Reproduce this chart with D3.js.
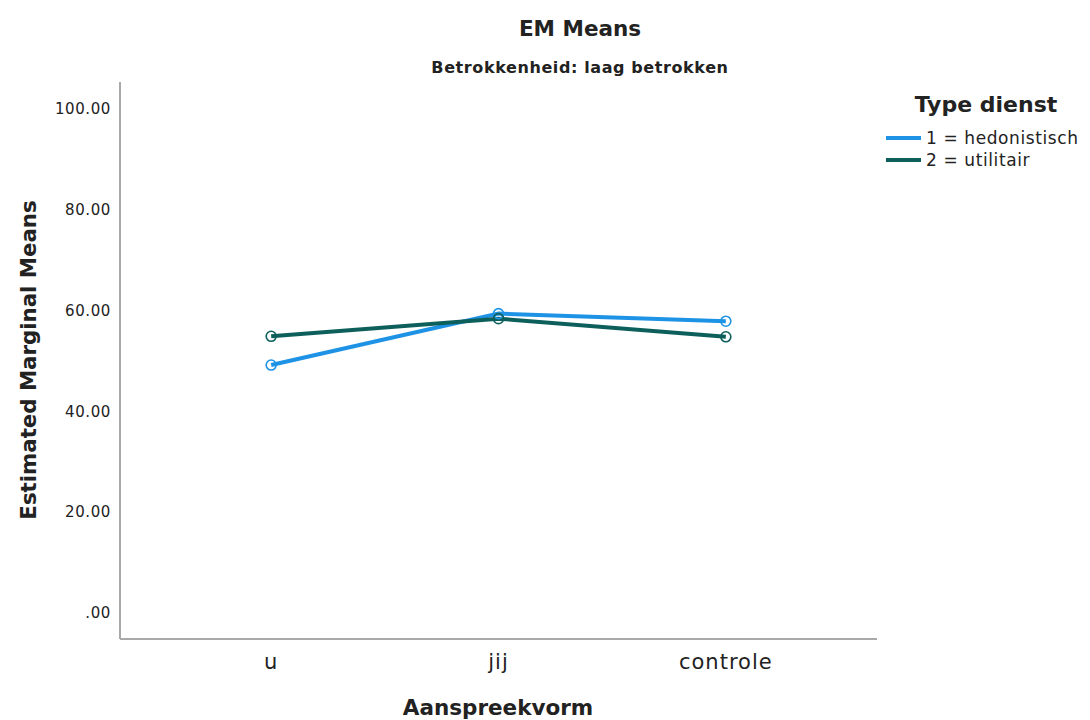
<!DOCTYPE html>
<html><head><meta charset="utf-8">
<script src="https://cdn.jsdelivr.net/npm/d3@7"></script>
<style>body{margin:0;background:#fff;} text{font-family:"DejaVu Sans","Open Sans",sans-serif;}</style>
</head><body>
<svg id="c" width="1090" height="720"></svg>
<script>
const categories = ["u", "jij", "controle"];
const seriesNames = ["1 = hedonistisch", "2 = utilitair"];
const hedonistisch = [49.2, 59.4, 57.9];
const utilitair = [54.9, 58.4, 54.8];
const yTicks = [0, 20, 40, 60, 80, 100];
const colors = ["#1e93e6", "#0d5f5b"];

const svg = d3.select("#c");
const axLeft = 120, axRight = 877, axTop = 82, axBottom = 639;
const x = d3.scalePoint().domain(categories).range([axLeft, axRight]).padding(0.665);
const y = d3.scaleLinear().domain([0, 100]).range([613, 109]);

// axes lines
svg.append("line").attr("x1", axLeft).attr("x2", axLeft).attr("y1", axTop).attr("y2", axBottom)
  .attr("stroke", "#a9a9a9").attr("stroke-width", 2);
svg.append("line").attr("x1", axLeft).attr("x2", axRight).attr("y1", axBottom).attr("y2", axBottom)
  .attr("stroke", "#a9a9a9").attr("stroke-width", 2);

// y tick labels
svg.selectAll(".yt").data(yTicks).enter().append("text")
  .attr("x", 111).attr("y", d => y(d)).attr("dy", "0.35em")
  .attr("text-anchor", "end").attr("font-size", 15).attr("letter-spacing", 0.6).attr("fill", "#222")
  .text(d => d === 0 ? ".00" : d.toFixed(2));

// x tick labels
svg.selectAll(".xt").data(categories).enter().append("text")
  .attr("x", d => x(d)).attr("y", 669)
  .attr("text-anchor", "middle").attr("font-size", 21).attr("letter-spacing", 1).attr("fill", "#222")
  .text(d => d);

// titles
svg.append("text").attr("x", 580).attr("y", 36).attr("text-anchor", "middle")
  .attr("font-size", 21.5).attr("font-weight", "bold").attr("fill", "#222").text("EM Means");
svg.append("text").attr("x", 580).attr("y", 73).attr("text-anchor", "middle")
  .attr("font-size", 16).attr("letter-spacing", 0.6).attr("font-weight", "bold").attr("fill", "#222").text("Betrokkenheid: laag betrokken");
svg.append("text").attr("x", 498).attr("y", 715).attr("text-anchor", "middle")
  .attr("font-size", 21.5).attr("font-weight", "bold").attr("fill", "#222").text("Aanspreekvorm");
svg.append("text").attr("transform", "translate(36,360) rotate(-90)").attr("text-anchor", "middle")
  .attr("font-size", 21.3).attr("font-weight", "bold").attr("fill", "#222").text("Estimated Marginal Means");

// series
const series = [hedonistisch, utilitair];
const line = d3.line().x((d, i) => x(categories[i])).y(d => y(d));
series.forEach((s, k) => {
  svg.append("path").datum(s).attr("d", line).attr("fill", "none")
    .attr("stroke", colors[k]).attr("stroke-width", 4);
});
series.forEach((s, k) => {
  svg.selectAll(".p" + k).data(s).enter().append("circle")
    .attr("cx", (d, i) => x(categories[i])).attr("cy", d => y(d)).attr("r", 5)
    .attr("fill", "none").attr("stroke", colors[k]).attr("stroke-width", 1.6);
});

// legend
svg.append("text").attr("x", 986).attr("y", 112).attr("text-anchor", "middle")
  .attr("font-size", 22).attr("font-weight", "bold").attr("fill", "#222").text("Type dienst");
seriesNames.forEach((n, k) => {
  const ly = 138 + k * 22;
  svg.append("line").attr("x1", 886).attr("x2", 921).attr("y1", ly).attr("y2", ly)
    .attr("stroke", colors[k]).attr("stroke-width", 4);
  svg.append("text").attr("x", 926).attr("y", ly).attr("dy", "0.35em")
    .attr("font-size", 17).attr("letter-spacing", 0.6).attr("fill", "#222").text(n);
});
</script>
</body></html>
